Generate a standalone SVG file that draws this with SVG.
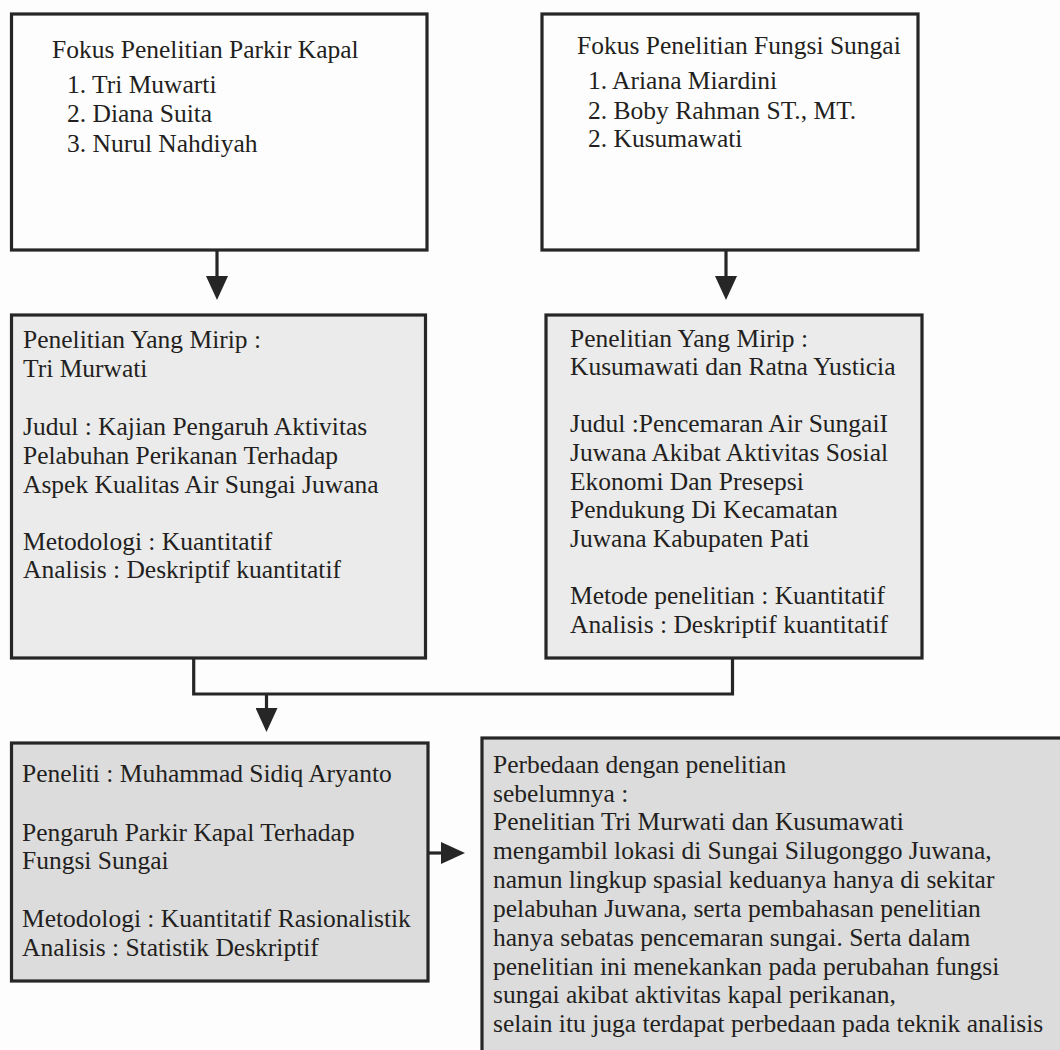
<svg xmlns="http://www.w3.org/2000/svg" width="1060" height="1050" viewBox="0 0 1060 1050">
<style>
  .box { stroke: #262626; stroke-width: 3.2; }
  .w { fill: #fdfdfd; }
  .g1 { fill: #ebebeb; }
  .g2 { fill: #dcdcdc; }
  text { font-family: "Liberation Serif", "Times New Roman", serif; font-size: 25.5px; fill: #231f20; }
  .conn { fill: none; stroke: #262626; stroke-width: 3.2; }
</style>
<defs>
  <marker id="arr" viewBox="0 0 24 22" refX="14" refY="11" markerWidth="24" markerHeight="22" markerUnits="userSpaceOnUse" orient="auto">
    <path d="M0,0 L24,11 L0,22 z" fill="#262626"/>
  </marker>
</defs>
<rect width="1060" height="1050" fill="#fdfdfd"/>

<g id="node-parkir">
  <rect class="box w" x="11.5" y="14" width="415.5" height="236"/>
  <text x="52" y="58">Fokus Penelitian Parkir Kapal</text>
  <text x="67" y="93">1. Tri Muwarti</text>
  <text x="67" y="122">2. Diana Suita</text>
  <text x="67" y="152">3. Nurul Nahdiyah</text>
</g>

<g id="node-fungsi">
  <rect class="box w" x="542" y="14" width="376" height="236"/>
  <text x="577" y="54">Fokus Penelitian Fungsi Sungai</text>
  <text x="588" y="89">1. Ariana Miardini</text>
  <text x="588" y="119">2. Boby Rahman ST., MT.</text>
  <text x="588" y="147">2. Kusumawati</text>
</g>

<g id="node-mirip1">
  <rect class="box g1" x="11.5" y="315" width="414" height="343"/>
  <text x="23" y="348">Penelitian Yang Mirip :</text>
  <text x="23" y="377">Tri Murwati</text>
  <text x="23" y="435">Judul : Kajian Pengaruh Aktivitas</text>
  <text x="23" y="464">Pelabuhan Perikanan Terhadap</text>
  <text x="23" y="493">Aspek Kualitas Air Sungai Juwana</text>
  <text x="23" y="550">Metodologi : Kuantitatif</text>
  <text x="23" y="578">Analisis : Deskriptif kuantitatif</text>
</g>

<g id="node-mirip2">
  <rect class="box g1" x="546" y="315" width="376" height="343"/>
  <text x="570" y="347">Penelitian Yang Mirip :</text>
  <text x="570" y="375">Kusumawati dan Ratna Yusticia</text>
  <text x="570" y="432">Judul :Pencemaran Air SungaiI</text>
  <text x="570" y="461">Juwana Akibat Aktivitas Sosial</text>
  <text x="570" y="490">Ekonomi Dan Presepsi</text>
  <text x="570" y="518">Pendukung Di Kecamatan</text>
  <text x="570" y="547">Juwana Kabupaten Pati</text>
  <text x="570" y="604">Metode penelitian : Kuantitatif</text>
  <text x="570" y="633">Analisis : Deskriptif kuantitatif</text>
</g>

<g id="node-peneliti">
  <rect class="box g2" x="11.5" y="743" width="416.5" height="238"/>
  <text x="22" y="782">Peneliti : Muhammad Sidiq Aryanto</text>
  <text x="22" y="841">Pengaruh Parkir Kapal Terhadap</text>
  <text x="22" y="869">Fungsi Sungai</text>
  <text x="22" y="927">Metodologi : Kuantitatif Rasionalistik</text>
  <text x="22" y="956">Analisis : Statistik Deskriptif</text>
</g>

<g id="node-perbedaan">
  <rect class="box g2" x="482" y="738" width="600" height="340"/>
  <text x="493" y="773">Perbedaan dengan penelitian</text>
  <text x="493" y="802">sebelumnya :</text>
  <text x="493" y="830">Penelitian Tri Murwati dan Kusumawati</text>
  <text x="493" y="859">mengambil lokasi di Sungai Silugonggo Juwana,</text>
  <text x="493" y="888">namun lingkup spasial keduanya hanya di sekitar</text>
  <text x="493" y="917">pelabuhan Juwana, serta pembahasan penelitian</text>
  <text x="493" y="946">hanya sebatas pencemaran sungai. Serta dalam</text>
  <text x="493" y="975">penelitian ini menekankan pada perubahan fungsi</text>
  <text x="493" y="1003">sungai akibat aktivitas kapal perikanan,</text>
  <text x="493" y="1032">selain itu juga terdapat perbedaan pada teknik analisis</text>
</g>

<g id="connectors">
  <line class="conn" x1="217" y1="251" x2="217" y2="290" marker-end="url(#arr)"/>
  <line class="conn" x1="726" y1="251" x2="726" y2="290" marker-end="url(#arr)"/>
  <polyline class="conn" points="193.7,659 193.7,694 732.5,694 732.5,659"/>
  <line class="conn" x1="266.5" y1="694" x2="266.5" y2="722" marker-end="url(#arr)"/>
  <line class="conn" x1="429" y1="853" x2="455" y2="853" marker-end="url(#arr)"/>
</g>
</svg>
